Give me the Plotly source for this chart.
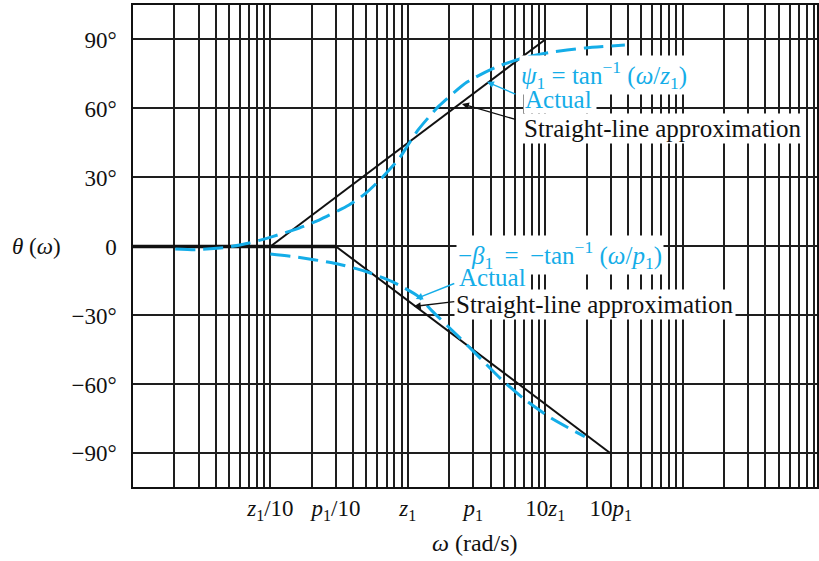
import plotly.graph_objects as go

# Corner frequencies (omega measured in units of z1)
z1 = 1.0
p1 = 3.0

# Straight-line (asymptotic) phase approximations: break points
flat_w = [0.01, p1 / 10]
flat_deg = [0, 0]
zero_w = [z1 / 10, 10 * z1]
zero_deg = [0, 90]
pole_w = [p1 / 10, 10 * p1]
pole_deg = [0, -90]

# Actual phase curves, read point by point
psi_w = [0.0203, 0.0288, 0.0476, 0.0702, 0.1035, 0.162, 0.226, 0.373, 0.493, 0.616,
         0.86, 1.0, 1.2, 1.68, 2.7, 4.4, 6.76, 10.6, 19.5, 38.0]
psi_deg = [-1.1, -1.4, -0.4, 1.5, 4.3, 8.0, 11.5, 18.0, 23.1, 28.5,
           38.0, 44.0, 51.0, 61.0, 71.5, 78.0, 81.8, 84.3, 86.3, 87.6]
beta_w = [0.1, 0.15, 0.3, 0.49, 0.77, 1.2, 1.5, 2.34, 3.28, 4.84, 7.15, 11.1, 19.4]
beta_deg = [-3.3, -4.5, -7.4, -10.8, -15.3, -21.8, -28.0, -39.2, -47.9,
            -58.0, -66.7, -74.7, -82.7]

# Axis labelling
x_tickvals = [z1 / 10, p1 / 10, z1, p1, 10 * z1, 10 * p1]
x_ticktext = ["<i>z</i><sub>1</sub>/10", "<i>p</i><sub>1</sub>/10", "<i>z</i><sub>1</sub>",
              "<i>p</i><sub>1</sub>", "10<i>z</i><sub>1</sub>", "10<i>p</i><sub>1</sub>"]
y_tickvals = [-90, -60, -30, 0, 30, 60, 90]
y_ticktext = ["\u221290°", "\u221260°", "\u221230°", "0", "30°", "60°", "90°"]

CYAN = "#14ade8"
INK = "#111111"
GRID = "#1e1e1e"
FONT = "Liberation Serif"
FS = 23
FA = 25
SP = "\u2009"

# Log-paper grid: every integer multiple within each decade
decades = [0.01, 0.1, 1, 10, 100]
grid_vals = [k * d for d in decades for k in range(1, 10)]

fig = go.Figure()

# straight-line approximations
fig.add_trace(go.Scatter(x=flat_w, y=flat_deg, mode="lines",
                         line=dict(color=INK, width=3.5), showlegend=False))
fig.add_trace(go.Scatter(x=zero_w, y=zero_deg, mode="lines",
                         line=dict(color=INK, width=2), showlegend=False))
fig.add_trace(go.Scatter(x=pole_w, y=pole_deg, mode="lines",
                         line=dict(color=INK, width=2), showlegend=False))

# actual phase curves
dash_line = dict(color=CYAN, width=3, dash="20px,8px", shape="spline", smoothing=0.6)
fig.add_trace(go.Scatter(x=psi_w, y=psi_deg, mode="lines", line=dash_line, showlegend=False))
fig.add_trace(go.Scatter(x=beta_w, y=beta_deg, mode="lines", line=dash_line, showlegend=False))

lbl = dict(showarrow=False, xref="x", yref="y", xanchor="left", yanchor="middle",
           bgcolor="white", borderpad=1)
txt = dict(showarrow=False, xref="x", yref="y", xanchor="left", yanchor="middle")
# white patch that masks the grid behind an "Actual" caption
patch = dict(showarrow=False, xref="x", yref="y", xanchor="left", yanchor="middle",
             text=" ", width=70, height=22, bgcolor="white", font=dict(size=4))

annotations = [
    dict(patch, x=0.835, y=63.2),
    dict(lbl, x=0.81, y=74.5, font=dict(family=FONT, size=FA, color=CYAN),
         text="<i>ψ</i><sub>1</sub> = tan<sup>\u22121</sup> (<i>ω</i>/<i>z</i><sub>1</sub>)"),
    dict(txt, x=0.84, y=63.7, font=dict(family=FONT, size=FA, color=CYAN), text="Actual"),
    dict(lbl, x=0.83, y=51.5, font=dict(family=FONT, size=FA, color=INK),
         text="Straight-line approximation"),
    dict(patch, x=0.35, y=-14.2),
    dict(lbl, x=0.35, y=-3.5, font=dict(family=FONT, size=FA, color=CYAN),
         text=f"\u2212<i>β</i><sub>1</sub>{SP} = {SP}\u2212tan<sup>\u22121</sup> (<i>ω</i>/<i>p</i><sub>1</sub>)"),
    dict(txt, x=0.355, y=-13.7, font=dict(family=FONT, size=FA, color=CYAN), text="Actual"),
    dict(lbl, x=0.337, y=-25.4, font=dict(family=FONT, size=FA, color=INK),
         text="Straight-line approximation"),
    # pointer arrows
    dict(x=0.5755, y=71.6, xref="x", yref="y", text="", showarrow=True, ax=30, ay=13,
         arrowhead=2, arrowsize=1, arrowwidth=1.4, arrowcolor=CYAN),
    dict(x=0.394, y=62.0, xref="x", yref="y", text="", showarrow=True, ax=55, ay=16,
         arrowhead=2, arrowsize=1, arrowwidth=1.4, arrowcolor=INK),
    dict(x=0.058, y=-22.8, xref="x", yref="y", text="", showarrow=True, ax=40, ay=-16,
         arrowhead=2, arrowsize=1, arrowwidth=1.4, arrowcolor=CYAN),
    dict(x=0.0435, y=-26.1, xref="x", yref="y", text="", showarrow=True, ax=42, ay=-5,
         arrowhead=2, arrowsize=1, arrowwidth=1.4, arrowcolor=INK),
    # axis titles
    dict(x=0.5, y=-0.116, xref="paper", yref="paper", showarrow=False,
         xanchor="center", yanchor="middle", font=dict(family=FONT, size=24, color=INK),
         text="<i>ω</i> (rad/s)"),
    dict(x=-0.1407, y=0.5, xref="paper", yref="paper", showarrow=False,
         xanchor="center", yanchor="middle", font=dict(family=FONT, size=FS, color=INK),
         text="<i>θ</i> (<i>ω</i>)"),
]

fig.update_layout(
    width=819, height=561,
    margin=dict(l=133, r=0, t=5, b=74, pad=0),
    paper_bgcolor="white", plot_bgcolor="white",
    font=dict(family=FONT, size=FS, color=INK),
    annotations=annotations,
    xaxis=dict(type="log", range=[-2, 2.978], tickmode="array",
               tickvals=x_tickvals, ticktext=x_ticktext, ticks="",
               ticklabelstandoff=0,
               showgrid=True, gridcolor=GRID, gridwidth=1.5,
               minor=dict(tickmode="array", tickvals=grid_vals, showgrid=True,
                          gridcolor=GRID, gridwidth=1.5, ticks=""),
               showline=True, mirror=True, linecolor=INK, linewidth=1.5,
               zeroline=False, tickfont=dict(family=FONT, size=FS, color=INK)),
    yaxis=dict(range=[-104.6, 105], tickmode="array", tickvals=y_tickvals,
               ticktext=y_ticktext, ticks="", ticklabelstandoff=10,
               showgrid=True, gridcolor=GRID, gridwidth=1.5,
               showline=True, mirror=True, linecolor=INK, linewidth=1.5,
               zeroline=False, tickfont=dict(family=FONT, size=FS, color=INK)),
)

fig.write_html("out.html")
